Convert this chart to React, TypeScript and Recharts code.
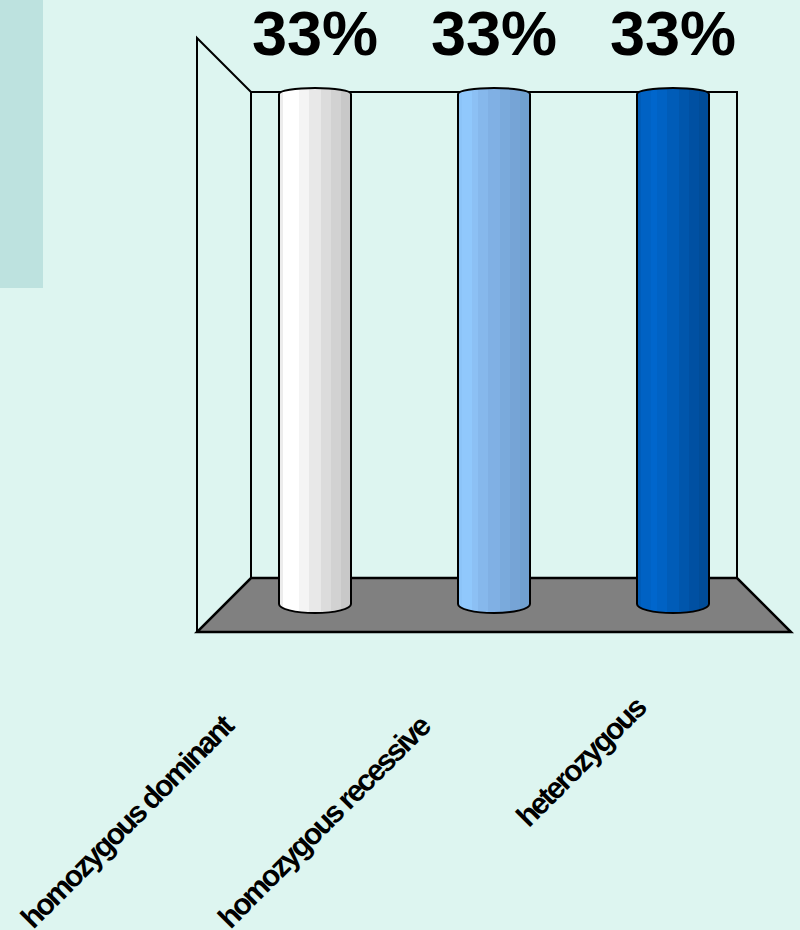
import React from "react";
import { BarChart, Bar, XAxis, YAxis, LabelList } from "recharts";

const categories = ["homozygous dominant", "homozygous recessive", "heterozygous"];
const percentages = [33, 33, 33];

// vertical stripes of each cylinder, left to right
const stripeColors = [
  ["#ececec", "#ffffff", "#ffffff", "#f4f4f4", "#e8e8e8", "#dcdcdc", "#d2d2d2", "#c8c8c8"],
  ["#8cc4f8", "#90c8fc", "#8cc0f4", "#86b8ec", "#80b0e4", "#7aaadc", "#76a4d6", "#70a0d0"],
  ["#005cb8", "#0062c4", "#0066cc", "#0062c4", "#005cb8", "#0056ac", "#0050a2", "#004c98"],
];
const stripeStops = [0, 0.05, 0.2, 0.28, 0.42, 0.58, 0.72, 0.86, 1];

// offsets of the rotated category labels from the tick
const labelShift = [
  [-188, 201],
  [-170, 201],
  [-92, 141],
];

const data = categories.map((name, i) => ({ name, value: percentages[i] }));

const font = "'Liberation Sans', Arial, sans-serif";

const Cylinder = (props: any) => {
  const { x, y, width, height, index } = props;
  const rt = 6;
  const rb = 9;
  const d = `M${x},${y + rt} A${width / 2},${rt} 0 0 1 ${x + width},${y + rt} L${x + width},${
    y + height - rb
  } A${width / 2},${rb} 0 0 1 ${x},${y + height - rb} Z`;
  return <path d={d} fill={`url(#cyl${index})`} stroke="#000" strokeWidth={2} />;
};

const CategoryTick = (props: any) => {
  const { x, y, payload, index } = props;
  const [dx, dy] = labelShift[index] || [0, 0];
  const cx = x + dx;
  const cy = y + dy;
  return (
    <text
      x={cx}
      y={cy}
      textAnchor="middle"
      dominantBaseline="central"
      transform={`rotate(-45 ${cx} ${cy})`}
      fontFamily={font}
      fontWeight="bold"
      fontSize={30}
      letterSpacing={-2.3}
      fill="#000"
    >
      {payload.value}
    </text>
  );
};

const TopLabel = (props: any) => {
  const { x, y, width, value } = props;
  return (
    <text
      x={x + width / 2}
      y={y - 33}
      textAnchor="middle"
      fontFamily={font}
      fontWeight="bold"
      fontSize={63}
      fill="#000"
    >
      {value}%
    </text>
  );
};

export default function App() {
  return (
    <div
      style={{
        position: "absolute",
        left: 0,
        top: 0,
        width: 800,
        height: 930,
        background: "#ddf5f0",
        overflow: "hidden",
      }}
    >
      <svg width={800} height={930} style={{ position: "absolute", left: 0, top: 0 }}>
        <rect x={0} y={0} width={43} height={288} fill="#bde2df" />
        <polygon
          points="251,578 737,578 791,632 197,632"
          fill="#808080"
          stroke="#000"
          strokeWidth={2.5}
          strokeLinejoin="miter"
        />
        <rect x={251} y={92} width={486} height={486} fill="none" stroke="#000" strokeWidth={2} />
        <polyline points="197,632 197,38 251,92" fill="none" stroke="#000" strokeWidth={2} />
      </svg>
      <div style={{ position: "absolute", left: 0, top: 0 }}>
        <BarChart
          width={800}
          height={930}
          data={data}
          margin={{ top: 88, right: 38, bottom: 17, left: 225 }}
          barCategoryGap={0}
        >
          <defs>
            {stripeColors.map((cols, i) => (
              <linearGradient key={i} id={`cyl${i}`} x1="0" y1="0" x2="1" y2="0">
                {cols.flatMap((c, j) => [
                  <stop key={`a${j}`} offset={stripeStops[j]} stopColor={c} />,
                  <stop key={`b${j}`} offset={stripeStops[j + 1]} stopColor={c} />,
                ])}
              </linearGradient>
            ))}
          </defs>
          <XAxis
            dataKey="name"
            height={300}
            axisLine={false}
            tickLine={false}
            interval={0}
            tick={<CategoryTick />}
          />
          <YAxis hide domain={[0, 33]} />
          <Bar dataKey="value" barSize={72} shape={<Cylinder />} isAnimationActive={false}>
            <LabelList dataKey="value" content={<TopLabel />} />
          </Bar>
        </BarChart>
      </div>
    </div>
  );
}
